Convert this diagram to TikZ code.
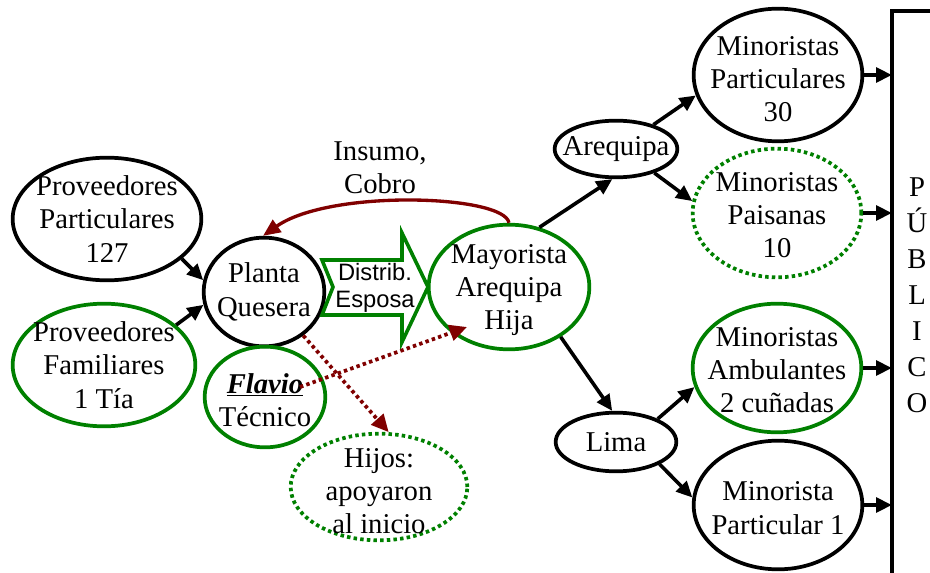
\documentclass[tikz,border=0pt]{standalone}
\usepackage{fontspec}
\setmainfont{Liberation Serif}
\newfontfamily\arrowfont{Liberation Sans}
\usetikzlibrary{shapes.geometric,arrows.meta}
\definecolor{leafgreen}{RGB}{0,128,0}
\definecolor{darkred}{RGB}{128,0,0}

\begin{document}
\begin{tikzpicture}[x=0.75pt,y=-0.75pt,
  every node/.style={font=\fontsize{21.5}{25}\selectfont},
  oval/.style 2 args={ellipse, draw, line width=2.8pt, inner sep=0pt,
    minimum width=#1*1.5pt-1pt, minimum height=#2*1.5pt-1pt},
  blackoval/.style={draw=black},
  greenoval/.style={draw=leafgreen},
  dottedoval/.style={draw=leafgreen, dash pattern=on 2.6pt off 2.4pt},
  caption/.style={align=center, inner sep=0pt},
  flow/.style={line width=2.7pt, -{Triangle[length=12pt,width=11pt]}},
  feedback/.style={darkred, line width=2.5pt, -{Triangle[length=13pt,width=11pt]}},
  support/.style={darkred, line width=2.8pt, dash pattern=on 2.6pt off 2.4pt,
    -{Triangle[length=13pt,width=12pt]}}]

\useasboundingbox (0,0) rectangle (930,573);

% suppliers and the cheese plant
\node[oval={95}{62}, blackoval] (pp) at (107,219) {};
\node[caption] (pp-t) at (pp) {Proveedores\\Particulares\\127};
\node[oval={92}{62}, greenoval] (pf) at (104,365) {};
\node[caption] (pf-t) at (pf) {Proveedores\\Familiares\\1 Tía};
\node[oval={61}{55}, blackoval] (planta) at (264,292) {};
\node[caption] (planta-t) at (planta) {Planta\\Quesera};
\node[oval={61}{51}, greenoval] (flavio) at (265,397) {};
\node[caption] (flavio-t) at (265,400) {\underline{\textbf{\textit{Flavio}}}\\Técnico};
\node[oval={89}{54}, greenoval, dottedoval] (hijos) at (379,487) {};
\node[caption] (hijos-t) at (379,491) {Hijos:\\apoyaron\\al inicio};

% distribution arrow
\draw[leafgreen, line width=2.7pt, line join=miter]
  (322,260) -- (402,260) -- (402,233) -- (428,287) -- (402,342)
  -- (402,315) -- (322,315) -- (333,287) -- cycle;
\node[caption, font=\arrowfont\fontsize{17.8}{20}\selectfont] (distrib) at (375,288) {Distrib.\\Esposa};

% wholesaler and markets
\node[oval={81}{63}, greenoval] (mayor) at (509,287) {};
\node[caption] (mayor-t) at (509,290) {Mayorista\\Arequipa\\Hija};
\node[oval={62}{29}, blackoval] (areq) at (616,149) {};
\node[caption] (areq-t) at (areq) {Arequipa};
\node[oval={61}{30}, blackoval] (lima) at (616,442) {};
\node[caption] (lima-t) at (lima) {Lima};

% retailers
\node[oval={85}{67}, blackoval] (mp) at (778,75) {};
\node[caption] (mp-t) at (778,79) {Minoristas\\Particulares\\30};
\node[oval={85}{65}, greenoval, dottedoval] (pais) at (777,213) {};
\node[caption] (pais-t) at (777,215) {Minoristas\\Paisanas\\10};
\node[oval={85}{65}, greenoval] (amb) at (777,368) {};
\node[caption] (amb-t) at (777,370) {Minoristas\\Ambulantes\\2 cuñadas};
\node[oval={85}{65}, blackoval] (part1) at (778,505) {};
\node[caption] (part1-t) at (778,508) {Minorista\\Particular 1};

% the public
\coordinate (bartop) at (892,11);
\draw[line width=2.7pt] (932,11) -- (bartop) -- (892,575);
\node[caption, font=\fontsize{21.5}{27}\selectfont] (publico) at (917,295) {P\\Ú\\B\\L\\I\\C\\O};

% labels
\node[caption] (insumo) at (380,168) {Insumo,\\Cobro};

% connectors
\draw[flow] (pp.-28) -- (planta.169);
\draw[flow] (pf.29) -- (planta.192);
\draw[feedback] (mayor.north) .. controls +(-5,-28) and +(67,-47) .. (planta.91);
\draw[support] (planta.-48) -- (hijos.80);
\coordinate (flavio-end) at (300,387);
\draw[support] (flavio-end) -- ([shift={(-42,40)}]mayor.center);
\draw[flow] (mayor.63) -- (areq.263);
\draw[flow] (mayor.-44) -- (lima.97);
\draw[flow] (areq.33) -- (mp.194);
\draw[flow] (areq.-32) -- (pais.172);
\draw[flow] (lima.29) -- (amb.193);
\draw[flow] (lima.-27) -- (part1.175);
\draw[flow] (mp.east) -- (mp.east -| bartop);
\draw[flow] (pais.east) -- (pais.east -| bartop);
\draw[flow] (amb.east) -- (amb.east -| bartop);
\draw[flow] (part1.east) -- (part1.east -| bartop);

\end{tikzpicture}
\end{document}
